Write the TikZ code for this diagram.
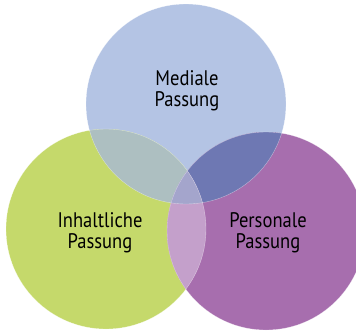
\documentclass[tikz,border=0pt]{standalone}
\usepackage{fontspec}
\setmainfont{PT Sans}[FakeStretch=0.88]
\usetikzlibrary{calc}

\definecolor{medblue}{HTML}{B4C4E4}
\definecolor{inhgreen}{HTML}{C5D96B}
\definecolor{perpurple}{HTML}{A76EAE}
\definecolor{mixmi}{HTML}{ADBFC1}
\definecolor{mixmp}{HTML}{6E78B3}
\definecolor{mixip}{HTML}{C4A0CB}
\definecolor{mixall}{HTML}{A4A5CC}

\begin{document}
\begin{tikzpicture}[x=0.03cm, y=-0.03cm,
        label/.style={align=center, font=\fontsize{18}{17.5}\selectfont, text=black}]
            \useasboundingbox (0,0) rectangle (356,331);
            % the three circles
            \fill[medblue] (186,104) circle (100);
            \fill[inhgreen] (106,229) circle (100);
            \fill[perpurple] (266,231) circle (99);

            % overlaps
            \begin{scope}
                \clip (186,104) circle (100);
                \fill[mixmi] (106,229) circle (100);
                \fill[mixmp] (266,231) circle (99);
            \end{scope}
            \begin{scope}
                \clip (106,229) circle (100);
                \fill[mixip] (266,231) circle (99);
                \clip (266,231) circle (99);
                \fill[mixall] (186,104) circle (100);
            \end{scope}

            % light rims
            \draw[white, opacity=0.5, line width=0.3pt] (186,104) circle (100);
            \draw[white, opacity=0.5, line width=0.3pt] (106,229) circle (100);
            \draw[white, opacity=0.5, line width=0.3pt] (266,231) circle (99);

            \node[label] (medial) at (187,91) {Mediale\\Passung};
            \node[label] (inhalt) at (100,233) {Inhaltliche\\Passung};
            \node[label] (person) at (268,233) {Personale\\Passung};
        \end{tikzpicture}
\end{document}
